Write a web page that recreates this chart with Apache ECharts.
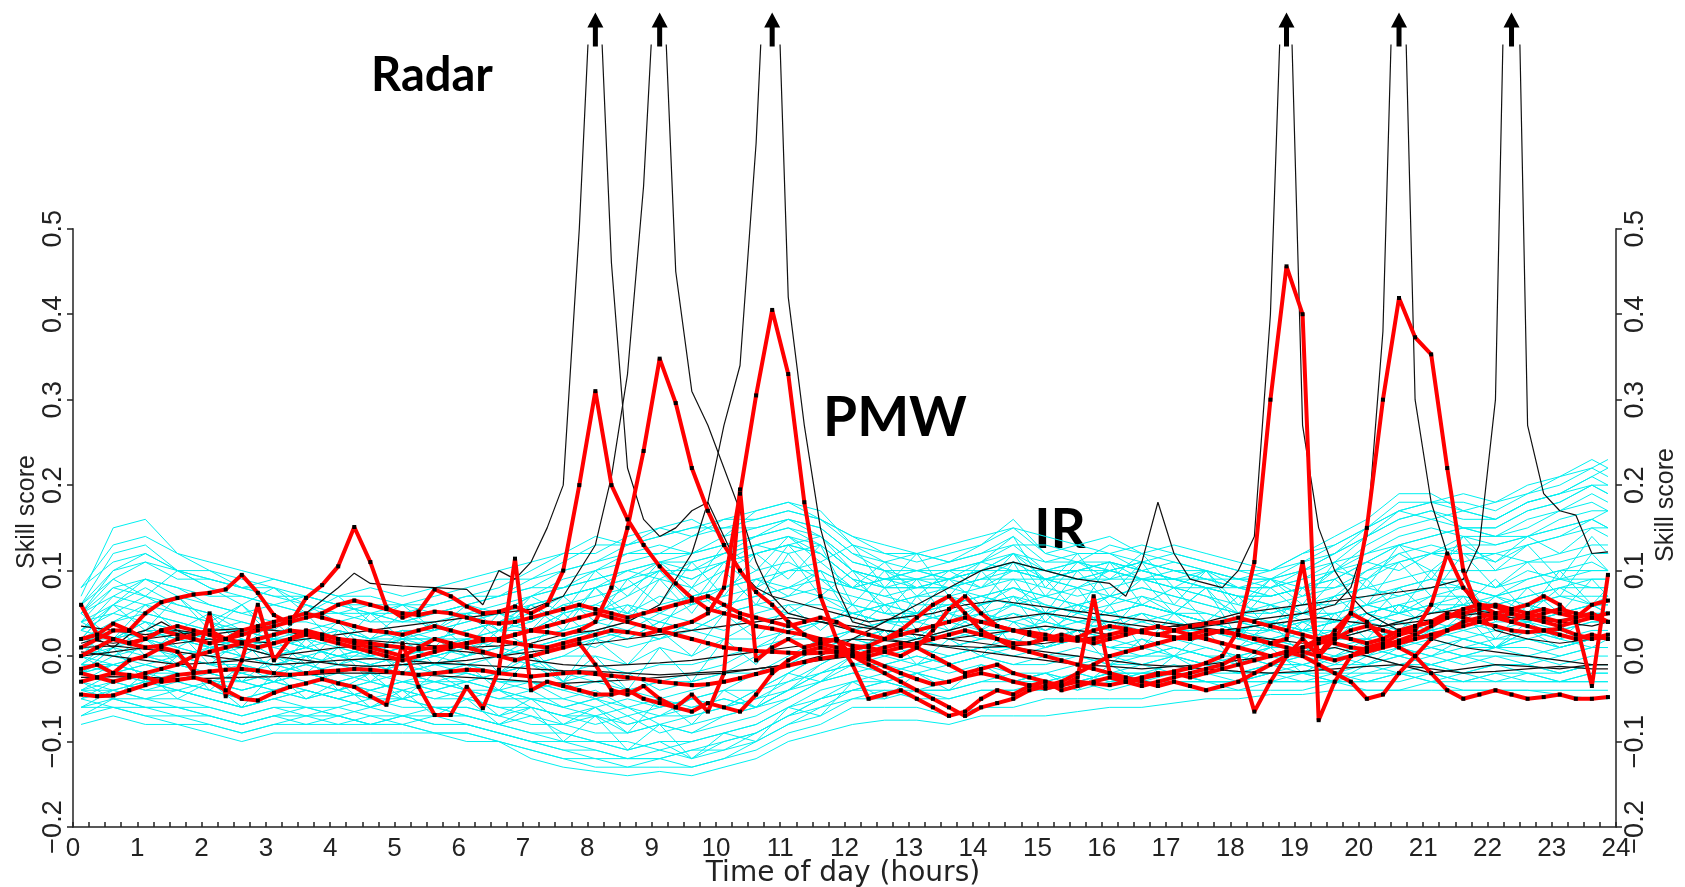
<!DOCTYPE html>
<html><head><meta charset="utf-8">
<script src="https://cdn.jsdelivr.net/npm/echarts@6/dist/echarts.min.js"></script>
<style>html,body{margin:0;padding:0;background:#fff}#c{width:1685px;height:887px}</style>
</head><body><div id="c"></div>
<script>
// ---------- tick labels ----------
const xTickLabels = ['0','1','2','3','4','5','6','7','8','9','10','11','12','13','14','15','16','17','18','19','20','21','22','23','24'];
const yTickValues = [-0.2,-0.1,0.0,0.1,0.2,0.3,0.4,0.5];
const yTickLabels = ['\u22120.2','\u22120.1','0.0','0.1','0.2','0.3','0.4','0.5'];

// ---------- IR (cyan) ensemble : half-hourly samples ----------
const cyanHours = [0.125,0.625,1.125,1.625,2.125,2.625,3.125,3.625,4.125,4.625,5.125,5.625,
 6.125,6.625,7.125,7.625,8.125,8.625,9.125,9.625,10.125,10.625,11.125,11.625,
 12.125,12.625,13.125,13.625,14.125,14.625,15.125,15.625,16.125,16.625,17.125,17.625,
 18.125,18.625,19.125,19.625,20.125,20.625,21.125,21.625,22.125,22.625,23.125,23.625,23.875];
const ir01=[.07,.15,.16,.12,.10,.09,.08,.06,.05,.06,.05,.06, .07,.08,.10,.12,.12,.14,.15,.16,.14,.17,.18,.17, .13,.12,.11,.12,.13,.16,.12,.11,.13,.12,.11,.10, .09,.10,.12,.14,.16,.19,.19,.17,.18,.20,.21,.23,.22];
const ir02=[.08,.13,.14,.12,.11,.10,.09,.08,.07,.07,.06,.07, .08,.09,.09,.11,.13,.13,.14,.15,.16,.16,.17,.16, .14,.12,.12,.11,.12,.13,.13,.12,.12,.11,.12,.11, .10,.09,.11,.13,.15,.18,.18,.18,.17,.19,.20,.22,.21];
const ir03=[.06,.12,.13,.10,.10,.08,.08,.07,.06,.06,.06,.06, .07,.07,.09,.10,.11,.12,.12,.14,.15,.15,.16,.15, .12,.11,.10,.10,.11,.12,.11,.11,.10,.11,.10,.10, .09,.09,.10,.12,.14,.16,.17,.16,.16,.18,.19,.21,.20];
const ir04=[.05,.10,.12,.10,.09,.08,.07,.07,.06,.05,.05,.05, .06,.07,.08,.08,.10,.11,.12,.12,.13,.14,.15,.14, .11,.10,.09,.10,.10,.12,.10,.10,.11,.10,.09,.09, .08,.08,.09,.10,.13,.15,.16,.15,.15,.17,.18,.20,.19];
const ir05=[.05,.09,.11,.09,.09,.08,.07,.06,.05,.05,.04,.05, .05,.06,.07,.08,.09,.10,.11,.11,.12,.13,.14,.13, .10,.09,.09,.09,.10,.10,.10,.09,.10,.09,.09,.08, .08,.07,.08,.09,.11,.13,.14,.15,.14,.15,.17,.18,.17];
const ir06=[.04,.08,.09,.08,.07,.07,.06,.05,.05,.04,.04,.04, .05,.05,.06,.07,.08,.09,.10,.10,.11,.12,.13,.12, .09,.08,.08,.08,.09,.09,.09,.09,.09,.09,.08,.08, .07,.07,.08,.08,.10,.11,.12,.13,.13,.14,.15,.16,.15];
const ir07=[.03,.06,.09,.07,.04,.06,.03,.06,.04,.02,.05,.03, .06,.03,.07,.05,.10,.07,.11,.08,.13,.10,.14,.11, .13,.08,.12,.07,.11,.14,.08,.12,.07,.11,.06,.10, .05,.09,.06,.11,.08,.13,.09,.14,.10,.13,.09,.14,.12];
const ir08=[.02,.06,.03,.07,.03,.06,.02,.05,.01,.05,.02,.04, .01,.05,.03,.07,.04,.09,.06,.11,.07,.12,.09,.13, .06,.10,.05,.09,.06,.11,.05,.10,.06,.09,.05,.08, .04,.08,.05,.09,.06,.11,.07,.12,.08,.11,.07,.12,.10];
const ir09=[.04,.02,.06,.03,.05,.01,.04,.01,.04,.00,.03,.01, .05,.02,.06,.03,.08,.04,.09,.05,.10,.06,.12,.07, .10,.05,.09,.04,.10,.06,.09,.05,.11,.06,.08,.04, .07,.03,.08,.04,.09,.05,.10,.06,.09,.05,.10,.06,.08];
const ir10=[.01,.04,.00,.03,-.01,.02,-.02,.02,-.01,.01,-.02,.02, .00,.03,.01,.05,.02,.06,.03,.08,.05,.09,.07,.10, .04,.08,.03,.07,.05,.09,.04,.08,.03,.07,.05,.08, .02,.06,.03,.07,.04,.08,.05,.09,.04,.08,.05,.09,.07];
const ir11=[.00,-.02,.02,-.01,.01,-.03,.00,-.02,.01,-.03,.00,-.02, -.01,-.04,.00,-.03,.02,-.01,.03,.00,.05,.02,.06,.03, .06,.02,.07,.03,.06,.01,.05,.02,.06,.01,.05,.02, .01,.04,.00,.05,.02,.06,.03,.07,.02,.06,.03,.06,.05];
const ir12=[-.02,.01,-.03,.00,-.04,-.01,-.03,.00,-.04,-.02,-.05,-.02, -.04,-.07,-.05,-.08,-.06,-.09,-.05,-.08,-.04,-.06,-.02,-.03, .00,.03,-.01,.02,.00,.04,.01,.03,-.01,.02,.00,.03, -.01,.02,.00,.03,.01,.04,.02,.05,.01,.04,.02,.05,.04];
const ir13=[.02,.02,.03,.03,.02,.01,.02,.01,.00,.01,.02,.01, .01,.02,.01,.02,.03,.02,.04,.03,.05,.06,.05,.07, .06,.05,.04,.05,.04,.06,.05,.04,.05,.06,.05,.04, .04,.03,.05,.04,.05,.06,.05,.06,.05,.06,.07,.06,.06];
const ir14=[.00,.02,.01,.02,.01,.01,.00,.01,.00,-.01,.00,.01, .00,.01,.00,.01,.02,.01,.02,.03,.02,.04,.05,.04, .05,.04,.05,.04,.05,.04,.05,.04,.04,.05,.04,.03, .03,.04,.03,.04,.04,.05,.04,.05,.05,.04,.05,.05,.05];
const ir15=[.01,.00,.02,.00,.01,.00,-.01,.00,-.01,.00,-.01,.00, .01,.00,-.01,.00,.00,-.01,.01,.00,.02,.02,.03,.04, .03,.04,.03,.04,.03,.05,.03,.04,.03,.04,.03,.03, .02,.03,.02,.03,.04,.03,.04,.03,.04,.04,.03,.04,.04];
const ir16=[-.01,.01,.00,.00,-.01,-.01,-.02,-.01,-.02,-.01,-.02,-.01, -.01,-.02,-.01,-.02,-.01,-.02,-.01,-.01,.00,.01,.02,.02, .03,.02,.03,.02,.03,.03,.02,.03,.02,.03,.02,.02, .01,.02,.01,.02,.03,.02,.03,.02,.03,.03,.02,.03,.03];
const ir17=[-.01,-.01,-.02,-.01,-.02,-.03,-.02,-.02,-.03,-.02,-.02,-.03, -.02,-.03,-.03,-.04,-.03,-.04,-.03,-.03,-.02,-.02,-.01,.01, .02,.01,.02,.01,.02,.02,.01,.02,.01,.01,.02,.01, .00,.01,.01,.00,.02,.01,.02,.01,.02,.02,.01,.02,.02];
const ir18=[-.02,-.01,-.02,-.02,-.03,-.03,-.04,-.03,-.04,-.03,-.04,-.03, -.04,-.04,-.05,-.05,-.06,-.05,-.06,-.05,-.04,-.04,-.03,-.01, .01,.00,.01,.00,.01,.01,.00,.01,.00,.00,.01,.00, -.01,.00,.00,-.01,.01,.00,.01,.00,.01,.01,.00,.01,.01];
const ir19=[-.03,-.02,-.03,-.03,-.04,-.05,-.04,-.05,-.04,-.05,-.05,-.04, -.05,-.06,-.06,-.07,-.07,-.08,-.07,-.07,-.06,-.05,-.04,-.02, .00,-.01,.00,-.01,.00,-.01,-.01,.00,-.01,-.01,.00,-.01, -.02,-.01,-.01,-.02,.00,-.01,.00,-.01,.00,.00,-.01,.00,.00];
const ir20=[-.04,-.03,-.04,-.04,-.05,-.06,-.05,-.06,-.06,-.05,-.06,-.06, -.06,-.07,-.08,-.08,-.09,-.09,-.08,-.09,-.08,-.07,-.05,-.03, -.01,-.02,-.01,-.02,-.01,-.02,-.02,-.01,-.02,-.02,-.01,-.02, -.03,-.02,-.02,-.03,-.01,-.02,-.01,-.02,-.01,-.01,-.02,-.01,-.01];
const ir21=[-.05,-.04,-.05,-.05,-.06,-.07,-.06,-.06,-.07,-.06,-.07,-.07, -.07,-.08,-.09,-.10,-.10,-.11,-.10,-.10,-.09,-.08,-.06,-.04, -.03,-.03,-.02,-.03,-.02,-.03,-.03,-.02,-.03,-.02,-.02,-.03, -.03,-.03,-.02,-.03,-.02,-.02,-.02,-.03,-.02,-.02,-.03,-.02,-.02];
const ir22=[-.06,-.05,-.06,-.06,-.07,-.08,-.07,-.07,-.07,-.08,-.07,-.08, -.08,-.09,-.10,-.11,-.12,-.12,-.12,-.11,-.11,-.10,-.08,-.06, -.04,-.04,-.04,-.05,-.04,-.04,-.04,-.03,-.04,-.03,-.03,-.03, -.03,-.03,-.03,-.03,-.03,-.03,-.02,-.03,-.03,-.03,-.03,-.03,-.03];
const ir23=[-.07,-.06,-.07,-.07,-.08,-.09,-.08,-.08,-.08,-.08,-.08,-.09, -.09,-.10,-.11,-.12,-.13,-.13,-.13,-.13,-.12,-.11,-.09,-.08, -.06,-.06,-.06,-.07,-.06,-.06,-.05,-.05,-.05,-.05,-.04,-.04, -.04,-.04,-.04,-.03,-.04,-.04,-.03,-.04,-.04,-.04,-.04,-.04,-.04];
const ir24=[-.08,-.07,-.08,-.08,-.09,-.10,-.09,-.09,-.09,-.09,-.09,-.09, -.10,-.10,-.12,-.13,-.135,-.14,-.135,-.14,-.13,-.12,-.10,-.09, -.08,-.075,-.075,-.08,-.07,-.07,-.07,-.065,-.06,-.06,-.055,-.05, -.05,-.045,-.045,-.04,-.04,-.04,-.04,-.04,-.04,-.04,-.045,-.05,-.05];
const ir25=[.02,.06,.08,.06,.05,.03,.02,.01,.00,.01,.00,-.01, .00,.02,.03,.05,.06,.08,.10,.09,.11,.13,.14,.12, .09,.06,.05,.07,.06,.08,.06,.05,.07,.06,.05,.04, .03,.04,.05,.07,.10,.12,.13,.12,.11,.13,.14,.16,.15];
const ir26=[-.02,.01,.03,.02,.01,.00,-.01,-.02,-.02,-.01,-.02,-.03, -.03,-.02,-.01,.00,.02,.03,.02,.04,.06,.07,.08,.07, .05,.04,.04,.03,.05,.04,.03,.05,.04,.03,.04,.03, .02,.01,.03,.04,.06,.08,.09,.08,.07,.09,.10,.11,.10];
const ir27=[.04,.05,.04,.03,.01,.02,.00,.01,.00,-.01,.00,.01, .02,.01,.00,-.02,-.03,-.02,-.04,-.03,-.02,.00,.02,.04, .05,.06,.07,.08,.09,.11,.09,.08,.10,.09,.08,.07, .05,.04,.03,.04,.05,.06,.05,.06,.07,.06,.05,.06,.06];
const ir28=[-.04,-.02,-.01,-.02,-.03,-.04,-.03,-.04,-.05,-.04,-.05,-.04, -.03,-.02,.00,.01,.03,.04,.06,.07,.08,.10,.11,.09, .06,.05,.05,.04,.06,.07,.05,.06,.05,.04,.05,.04, .03,.02,.03,.02,.03,.04,.03,.04,.05,.04,.05,.06,.05];
const ir29=[.01,.03,.02,.01,.00,-.02,-.03,-.02,-.03,-.04,-.03,-.02, -.03,-.04,-.06,-.07,-.06,-.08,-.07,-.05,-.06,-.04,-.02,.00, .02,.03,.02,.01,.02,.03,.04,.03,.02,.01,.00,.01, .00,-.01,.00,.01,.02,.01,.03,.02,.01,.03,.02,.01,.02];
const ir30=[.05,.08,.07,.05,.04,.03,.02,.03,.02,.01,.02,.02, .03,.04,.06,.07,.08,.10,.11,.12,.13,.14,.16,.15, .12,.10,.08,.09,.08,.10,.09,.10,.11,.10,.09,.08, .07,.06,.05,.07,.08,.07,.08,.09,.08,.10,.09,.10,.10];
const ir31=[-.06,-.04,-.03,-.04,-.05,-.06,-.05,-.04,-.05,-.06,-.05,-.06, -.07,-.08,-.07,-.09,-.10,-.11,-.10,-.12,-.11,-.09,-.07,-.05, -.04,-.03,-.04,-.03,-.02,-.03,-.02,-.03,-.02,-.01,-.02,-.01, .00,-.01,.00,.01,.00,.02,.01,.02,.01,.02,.03,.02,.02];
const ir32=[.03,.07,.09,.08,.06,.05,.04,.04,.03,.02,.03,.03, .04,.05,.04,.06,.05,.07,.09,.08,.10,.12,.13,.14, .10,.08,.09,.08,.07,.08,.07,.08,.07,.08,.07,.06, .05,.06,.04,.05,.06,.05,.06,.07,.06,.07,.08,.09,.09];
const ir33=[-.03,-.01,.00,-.01,-.02,-.03,-.02,-.01,-.02,-.03,-.02,-.01, -.02,-.03,-.03,-.05,-.04,-.06,-.05,-.06,-.05,-.06,-.04,-.02, -.01,-.01,.00,-.01,.00,.01,.00,.00,-.01,.00,.00,-.01, -.02,-.02,-.01,-.02,-.01,.00,-.01,.00,-.01,-.01,-.02,-.01,-.01];
const ir34=[.00,.04,.06,.05,.04,.02,.01,.02,.01,.00,.01,.00, .01,.00,.02,.03,.04,.05,.04,.06,.07,.08,.10,.11, .08,.07,.06,.06,.07,.06,.05,.06,.07,.06,.05,.05, .04,.03,.04,.05,.06,.05,.07,.08,.07,.08,.09,.08,.08];
const ir35=[.03,.05,.07,.06,.05,.04,.03,.03,.04,.03,.02,.03, .04,.05,.07,.09,.10,.12,.13,.12,.14,.15,.16,.14, .11,.10,.10,.11,.12,.14,.11,.12,.12,.10,.11,.10, .09,.09,.10,.12,.15,.17,.18,.17,.16,.18,.19,.20,.20];
const ir36=[.02,.04,.05,.04,.03,.03,.02,.02,.03,.02,.02,.02, .03,.04,.05,.07,.08,.09,.11,.10,.12,.14,.15,.13, .10,.09,.09,.10,.11,.13,.10,.11,.11,.09,.10,.09, .08,.08,.09,.11,.14,.16,.17,.15,.15,.17,.18,.20,.19];
const ir37=[-.01,.02,.04,.03,.02,.01,.00,.01,.00,.00,.01,.01, .02,.03,.04,.06,.07,.08,.10,.09,.11,.12,.13,.12, .09,.08,.08,.09,.10,.12,.09,.10,.10,.09,.09,.08, .07,.07,.08,.10,.12,.14,.15,.14,.14,.16,.17,.19,.18];
const ir38=[.01,.03,.02,.03,.02,.01,.02,.01,.02,.01,.01,.02, .02,.03,.03,.04,.05,.06,.05,.07,.08,.09,.10,.10, .08,.09,.08,.09,.10,.11,.10,.09,.10,.11,.10,.09, .08,.07,.08,.09,.11,.13,.14,.15,.14,.14,.16,.17,.17];
const ir39=[.00,.01,.02,.01,.00,.01,.00,-.01,.00,.01,.00,-.01, .00,.01,.02,.03,.04,.03,.05,.04,.06,.07,.08,.09, .08,.07,.08,.08,.09,.10,.09,.08,.09,.10,.09,.08, .07,.06,.07,.08,.09,.11,.12,.12,.12,.13,.14,.15,.15];
const ir40=[-.02,-.01,.00,-.01,-.02,-.01,-.02,-.03,-.02,-.01,-.02,-.02, -.01,.00,.01,.02,.03,.02,.04,.03,.05,.06,.07,.08, .07,.06,.07,.07,.08,.09,.08,.07,.08,.09,.08,.07, .06,.05,.06,.07,.08,.09,.10,.10,.10,.11,.11,.12,.12];
const ir41=[.03,.02,.03,.02,.01,.02,.01,.00,.01,.00,.01,.00, -.01,-.02,-.01,-.03,-.02,-.04,-.03,-.02,-.01,.01,.03,.04, .05,.04,.05,.06,.07,.08,.07,.06,.07,.08,.07,.06, .05,.05,.06,.06,.07,.08,.09,.09,.08,.09,.10,.10,.10];
const ir42=[-.03,-.02,-.03,-.02,-.03,-.04,-.03,-.02,-.03,-.04,-.03,-.03, -.04,-.05,-.04,-.06,-.05,-.07,-.06,-.05,-.04,-.02,.00,.02, .03,.04,.04,.05,.06,.07,.06,.05,.06,.07,.06,.05, .04,.04,.05,.05,.06,.07,.08,.08,.07,.08,.09,.09,.09];
const ir43=[.02,.00,.01,.00,-.01,.00,-.01,-.02,-.01,-.02,-.01,-.02, -.02,-.03,-.04,-.03,-.05,-.04,-.06,-.05,-.06,-.04,-.02,.00, .02,.03,.03,.04,.05,.06,.05,.04,.05,.06,.05,.04, .03,.03,.04,.04,.05,.06,.07,.07,.06,.07,.08,.08,.08];
const ir44=[-.05,-.03,-.04,-.03,-.04,-.05,-.04,-.05,-.04,-.03,-.04,-.05, -.05,-.06,-.07,-.08,-.07,-.09,-.08,-.09,-.07,-.06,-.04,-.01, .01,.02,.02,.03,.04,.05,.04,.03,.04,.05,.04,.03, .02,.02,.03,.03,.04,.05,.06,.06,.05,.06,.07,.07,.07];
const ir45=[-.07,-.05,-.06,-.06,-.07,-.08,-.07,-.06,-.07,-.08,-.07,-.08, -.08,-.09,-.10,-.11,-.11,-.12,-.11,-.12,-.10,-.09,-.07,-.05, -.03,-.02,-.01,.00,.01,.02,.01,.02,.01,.02,.01,.00, .00,.01,.01,.02,.02,.03,.03,.04,.03,.04,.05,.05,.05];
const ir46=[-.06,-.06,-.07,-.08,-.08,-.09,-.08,-.07,-.08,-.07,-.08,-.09, -.09,-.10,-.11,-.12,-.12,-.13,-.12,-.13,-.12,-.10,-.08,-.07, -.05,-.05,-.04,-.04,-.03,-.02,-.03,-.02,-.03,-.02,-.02,-.02, -.02,-.01,-.01,.00,.00,.01,.00,.01,.01,.00,.01,.02,.02];
const ir47=[-.05,-.06,-.06,-.07,-.07,-.08,-.07,-.08,-.07,-.08,-.08,-.07, -.08,-.09,-.10,-.10,-.11,-.12,-.12,-.11,-.10,-.09,-.07,-.06, -.05,-.04,-.05,-.05,-.04,-.04,-.03,-.04,-.03,-.03,-.03,-.03, -.03,-.02,-.02,-.02,-.02,-.01,-.01,-.02,-.01,-.02,-.02,-.01,-.01];
const ir48=[-.04,-.05,-.05,-.06,-.06,-.07,-.06,-.07,-.06,-.07,-.07,-.06, -.07,-.08,-.09,-.09,-.10,-.10,-.11,-.10,-.09,-.08,-.06,-.05, -.04,-.03,-.04,-.04,-.03,-.03,-.02,-.03,-.02,-.02,-.02,-.03, -.04,-.03,-.03,-.03,-.03,-.02,-.03,-.03,-.02,-.03,-.03,-.02,-.02];
const ir49=[.05,.02,.04,.01,.03,.00,.02,-.01,.03,.00,.02,-.01, .02,-.02,.01,-.03,.00,-.04,.01,-.03,.02,-.01,.04,.01, .03,.06,.02,.05,.03,.07,.02,.06,.03,.05,.02,.04, .03,.01,.04,.02,.05,.03,.06,.04,.07,.05,.08,.06,.07];
const ir50=[-.03,-.05,-.02,-.05,-.03,-.06,-.02,-.05,-.03,-.06,-.04,-.07, -.05,-.08,-.06,-.10,-.07,-.11,-.08,-.12,-.09,-.10,-.06,-.07, -.03,-.05,-.02,-.04,-.01,-.03,-.02,-.04,-.01,-.03,.00,-.02, -.01,.01,-.02,.00,-.01,.01,.00,.02,.01,.03,.01,.02,.02];
const ir51=[.06,.10,.11,.10,.08,.07,.06,.07,.06,.05,.06,.05, .06,.07,.08,.10,.11,.13,.14,.15,.15,.16,.17,.16, .13,.11,.12,.11,.13,.15,.12,.13,.12,.13,.12,.11, .10,.10,.11,.12,.14,.17,.16,.17,.16,.18,.19,.21,.22];
const ir52=[-.02,.00,-.01,.00,-.01,-.02,-.01,.00,-.01,-.02,-.01,.00, .01,.00,.01,.02,.01,.03,.02,.04,.03,.05,.06,.06, .05,.06,.05,.06,.07,.06,.07,.06,.05,.06,.05,.04, .03,.04,.03,.04,.05,.04,.05,.06,.05,.06,.05,.06,.06];
const ir53=[.00,-.01,-.02,-.03,-.02,-.03,-.04,-.03,-.04,-.05,-.04,-.05, -.04,-.05,-.05,-.06,-.07,-.06,-.08,-.07,-.06,-.05,-.03,-.02, -.01,.00,-.01,.00,.01,.00,.01,.02,.01,.00,.01,.00, -.01,.00,-.01,.00,.01,.00,.01,.00,.01,.02,.01,.02,.02];
const ir54=[.06,.09,.07,.10,.08,.06,.08,.05,.07,.04,.06,.03, .05,.03,.06,.04,.08,.05,.10,.06,.11,.08,.13,.09, .08,.11,.07,.10,.08,.12,.07,.11,.09,.12,.08,.10, .06,.09,.07,.10,.09,.12,.10,.13,.11,.14,.12,.15,.14];
const ir55=[.05,.07,.06,.07,.06,.05,.06,.05,.04,.05,.04,.05, .06,.05,.07,.08,.09,.10,.09,.11,.12,.13,.12,.13, .10,.09,.10,.09,.10,.11,.10,.11,.10,.11,.10,.09, .09,.08,.10,.11,.12,.13,.12,.14,.13,.14,.15,.16,.17];
const ir56=[-.01,-.02,-.01,-.02,-.03,-.02,-.03,-.02,-.03,-.02,-.03,-.04, -.03,-.04,-.03,-.04,-.05,-.04,-.05,-.04,-.03,-.02,-.01,.01, .02,.01,.02,.03,.02,.03,.02,.03,.02,.03,.02,.02, .01,.02,.01,.02,.02,.03,.02,.03,.02,.03,.03,.04,.04];
const ir57=[-.04,-.04,-.05,-.04,-.05,-.06,-.05,-.04,-.05,-.06,-.05,-.06, -.06,-.07,-.06,-.07,-.08,-.07,-.09,-.08,-.07,-.06,-.05,-.03, -.02,-.01,-.02,-.01,.00,-.01,.00,-.01,.00,-.01,.00,-.01, -.02,-.01,-.02,-.01,-.01,.00,-.01,.00,.00,-.01,.00,.01,.01];
const ir58=[.04,.06,.05,.04,.03,.04,.03,.02,.03,.02,.03,.02, .03,.04,.03,.05,.06,.05,.07,.06,.08,.09,.08,.10, .08,.09,.10,.09,.11,.10,.09,.10,.11,.10,.09,.10, .08,.09,.08,.10,.11,.10,.12,.11,.12,.11,.12,.13,.13];
const ir59=[-.03,-.04,-.03,-.04,-.03,-.04,-.03,-.04,-.05,-.04,-.03,-.04, -.05,-.04,-.05,-.06,-.05,-.06,-.07,-.06,-.05,-.06,-.04,-.03, -.02,-.03,-.02,-.03,-.02,-.03,-.04,-.03,-.02,-.03,-.02,-.03, -.03,-.02,-.03,-.02,-.03,-.02,-.03,-.02,-.03,-.02,-.03,-.03,-.03];
const ir60=[.08,.11,.12,.10,.09,.08,.09,.08,.07,.08,.07,.08, .09,.10,.11,.12,.14,.13,.15,.14,.16,.17,.18,.16, .14,.13,.12,.13,.14,.15,.14,.13,.14,.12,.13,.12, .11,.10,.12,.13,.15,.17,.18,.19,.18,.19,.21,.22,.23];
const irSeries=[ir01,ir02,ir03,ir04,ir05,ir06,ir07,ir08,ir09,ir10,ir11,ir12,ir13,ir14,ir15,ir16,ir17,ir18,ir19,ir20,
 ir21,ir22,ir23,ir24,ir25,ir26,ir27,ir28,ir29,ir30,ir31,ir32,ir33,ir34,ir35,ir36,ir37,ir38,ir39,ir40,
 ir41,ir42,ir43,ir44,ir45,ir46,ir47,ir48,ir49,ir50,ir51,ir52,ir53,ir54,ir55,ir56,ir57,ir58,ir59,ir60];

// ---------- Radar (black) : [hour, skill] ----------
const radar1=[[.125,.035],[.625,.03],[1.125,.025],[1.625,.03],[2.125,.025],[2.625,.03],[3.125,.035],[3.625,.05],[4.125,.08],[4.375,.097],[4.625,.085],[5.125,.082],[5.625,.08],[6.125,.078],[6.375,.06],[6.625,.1],[6.875,.09],[7.125,.11],[7.375,.15],[7.625,.2],[7.875,.5],[8.125,.9],[8.375,.46],[8.625,.22],[8.875,.16],[9.125,.14],[9.375,.15],[9.625,.17],[9.875,.18],[10.125,.14],[10.375,.1],[10.625,.08],[10.875,.07],[11.375,.06],[11.875,.05],[12.375,.04],[12.875,.045],[13.375,.05],[13.875,.06],[14.375,.065],[14.875,.06],[15.375,.055],[15.875,.05],[16.375,.045],[16.875,.04],[17.375,.035],[17.875,.03],[18.375,.035],[18.875,.04],[19.375,.045],[19.875,.04],[20.375,.035],[20.875,.04],[21.375,.045],[21.875,.05],[22.375,.045],[22.875,.04],[23.375,.045],[23.875,.05]];
const radar2=[[.125,.0],[.625,.005],[1.125,.01],[1.625,.015],[2.125,.02],[2.625,.018],[3.125,.015],[3.625,.02],[4.125,.025],[4.625,.03],[5.125,.035],[5.625,.04],[6.125,.045],[6.625,.05],[7.125,.055],[7.625,.07],[8.125,.13],[8.375,.21],[8.625,.33],[8.875,.55],[9.125,.9],[9.375,.45],[9.625,.31],[9.875,.27],[10.125,.22],[10.375,.17],[10.625,.11],[10.875,.07],[11.125,.05],[11.625,.04],[12.125,.03],[12.625,.02],[13.125,.015],[13.625,.01],[14.125,.005],[14.625,.0],[15.125,-.005],[15.625,-.01],[16.125,-.012],[16.625,-.015],[17.125,-.012],[17.625,-.01],[18.125,-.005],[18.625,.0],[19.125,.005],[19.625,.01],[20.125,.0],[20.625,-.01],[21.125,-.02],[21.625,-.015],[22.125,-.01],[22.625,-.012],[23.125,-.015],[23.625,-.01],[23.875,-.01]];
const radar3=[[.125,.02],[.625,.015],[1.125,.02],[1.625,.025],[2.125,.03],[2.625,.032],[3.125,.03],[3.625,.025],[4.125,.02],[4.625,.018],[5.125,.015],[5.625,.012],[6.125,.01],[6.625,.012],[7.125,.015],[7.625,.025],[8.125,.03],[8.625,.04],[9.125,.06],[9.625,.12],[9.875,.18],[10.125,.27],[10.375,.34],[10.625,.6],[10.875,1.0],[11.125,.42],[11.375,.27],[11.625,.15],[11.875,.08],[12.125,.04],[12.625,.03],[13.125,.025],[13.625,.02],[14.125,.025],[14.625,.03],[15.125,.035],[15.625,.03],[16.125,.025],[16.625,.03],[17.125,.035],[17.625,.03],[18.125,.025],[18.625,.02],[19.125,.015],[19.625,.02],[20.125,.03],[20.625,.04],[21.125,.05],[21.625,.055],[22.125,.05],[22.625,.045],[23.125,.04],[23.625,.035],[23.875,.04]];
const radar4=[[.125,-.025],[.625,-.024],[1.125,-.025],[1.625,-.026],[2.125,-.026],[2.625,-.025],[3.125,-.024],[3.625,-.022],[4.125,-.02],[4.625,-.02],[5.125,-.021],[5.625,-.023],[6.125,-.025],[6.625,-.027],[7.125,-.03],[7.625,-.032],[8.125,-.03],[8.625,-.028],[9.125,-.025],[9.625,-.022],[10.125,-.02],[10.625,-.015],[11.125,-.01],[11.625,.0],[12.125,.02],[12.625,.04],[13.125,.06],[13.625,.08],[14.125,.1],[14.625,.11],[15.125,.1],[15.625,.09],[16.125,.085],[16.375,.07],[16.625,.11],[16.875,.18],[17.125,.12],[17.375,.09],[17.625,.085],[17.875,.08],[18.125,.1],[18.375,.14],[18.625,.4],[18.875,.95],[19.125,.27],[19.375,.15],[19.625,.1],[19.875,.07],[20.125,.05],[20.625,.03],[21.125,.02],[21.625,.01],[22.125,.005],[22.625,.0],[23.125,-.005],[23.625,-.01],[23.875,-.01]];
const radar5=[[.125,.01],[.625,.012],[1.125,.008],[1.625,.005],[2.125,.0],[2.625,-.005],[3.125,-.01],[3.625,-.008],[4.125,-.005],[4.625,-.003],[5.125,-.005],[5.625,-.008],[6.125,-.01],[6.625,-.012],[7.125,-.015],[7.625,-.017],[8.125,-.018],[8.625,-.02],[9.125,-.022],[9.625,-.02],[10.125,-.018],[10.625,-.015],[11.125,-.01],[11.625,-.005],[12.125,.0],[12.625,.01],[13.125,.02],[13.625,.03],[14.125,.04],[14.625,.045],[15.125,.05],[15.625,.045],[16.125,.04],[16.625,.035],[17.125,.03],[17.625,.035],[18.125,.04],[18.625,.045],[19.125,.05],[19.625,.06],[19.875,.08],[20.125,.14],[20.375,.38],[20.625,1.05],[20.875,.3],[21.125,.18],[21.375,.12],[21.625,.08],[21.875,.05],[22.125,.03],[22.625,.02],[23.125,.015],[23.625,.02],[23.875,.02]];
const radar6=[[.125,.005],[.625,.0],[1.125,-.005],[1.625,-.01],[2.125,-.008],[2.625,-.005],[3.125,.0],[3.625,.005],[4.125,.01],[4.625,.012],[5.125,.01],[5.625,.008],[6.125,.005],[6.625,.0],[7.125,-.005],[7.625,-.01],[8.125,-.012],[8.625,-.01],[9.125,-.008],[9.625,-.005],[10.125,.0],[10.625,.005],[11.125,.01],[11.625,.015],[12.125,.02],[12.625,.018],[13.125,.015],[13.625,.012],[14.125,.01],[14.625,.012],[15.125,.015],[15.625,.02],[16.125,.025],[16.625,.03],[17.125,.035],[17.625,.04],[18.125,.05],[18.625,.055],[19.125,.06],[19.625,.065],[20.125,.07],[20.625,.075],[21.125,.08],[21.375,.085],[21.625,.09],[21.875,.13],[22.125,.3],[22.375,1.2],[22.625,.27],[22.875,.19],[23.125,.17],[23.375,.165],[23.625,.12],[23.875,.122]];
const radar7=[[.125,.015],[.375,.02],[.625,.01],[.875,.025],[1.125,.03],[1.375,.04],[1.625,.03],[1.875,.02],[2.125,.015],[2.625,.01],[3.125,.0],[3.625,-.005],[4.125,-.01],[4.625,-.012],[5.125,-.01],[5.625,-.008],[6.125,-.005],[6.625,.0],[7.125,.005],[7.625,.01],[8.125,.015],[8.625,.02],[9.125,.025],[9.625,.03],[10.125,.035],[10.625,.04],[11.125,.045],[11.625,.04],[12.125,.035],[12.625,.03],[13.125,.025],[13.625,.02],[14.125,.015],[14.625,.01],[15.125,.005],[15.625,.0],[16.125,-.005],[16.625,-.01],[17.125,-.012],[17.625,-.015],[18.125,-.018],[18.625,-.02],[19.125,-.018],[19.625,-.015],[20.125,-.012],[20.625,-.01],[21.125,-.015],[21.625,-.02],[22.125,-.018],[22.625,-.015],[23.125,-.012],[23.625,-.015],[23.875,-.015]];
const radarSeries=[radar1,radar2,radar3,radar4,radar5,radar6,radar7];
const arrowHours=[8.125,9.125,10.875,18.875,20.625,22.375];

// ---------- PMW (red) : quarter-hourly samples, 4 per hour ----------
const pmw1=[.01,.02,.03,.03, .05,.063,.068,.072, .074,.078,.095,.074, .048,.038,.068,.083, .105,.151,.11,.057, .045,.052,.078,.07, .058,.05,.052,.058, .05,.06,.1,.2, .31,.2,.16,.13, .105,.085,.068,.055, .05,.045,.035,.032, .028,.025,.02,.018, .012,.01,.005,.0, .01,.03,.055,.07, .05,.035,.03,.025, .02,.018,.022,.03, .035,.032,.028,.025, .03,.035,.038,.04, .045,.04,.035,.03, .025,.02,.015,.01, .008,.012,.018,.025, .035,.045,.055,.06, .058,.05,.045,.05, .055,.05,.045,.05];
const pmw2=[-.045,-.047,-.046,-.04, -.034,-.028,-.022,-.02, -.018,-.016,-.015,-.017, -.02,-.022,-.02,-.018, -.017,-.015,-.016,-.018, -.02,-.022,-.02,-.018, -.016,-.017,-.02,-.022, -.024,-.022,-.02,-.019, -.021,-.023,-.025,-.027, -.03,-.032,-.034,-.033, -.03,-.026,-.021,-.016, -.011,-.007,-.003,.0, .002,-.004,-.012,-.02, -.027,-.033,-.03,-.024, -.02,-.024,-.03,-.034, -.038,-.034,-.03,-.032, -.034,-.03,-.026,-.022, -.018,-.014,-.008,.0, .03,.11,.30,.456, .40,-.075,-.03,.0, .01,.015,.025,.035, .04,.05,.045,.04, .035,.03,.028,.03, .032,.025,.02,.025];
const pmw3=[.06,.025,.038,.03, .02,.03,.025,.02, .015,.02,.03,.035, .04,.045,.05,.045, .04,.035,.03,.028, .025,.03,.035,.03, .025,.02,.02,.025, .03,.028,.025,.03, .04,.08,.15,.24, .348,.296,.22,.17, .13,.1,.075,.06, .04,.025,.015,.01, .005,.0,.005,.01, .015,.02,.025,.03, .025,.02,.015,.015, .02,.025,.02,.015, .02,.025,.03,.035, .03,.025,.02,.015, .01,.005,.0,.005, .01,.015,.02,.05, .15,.3,.419,.373, .353,.22,.1,.05, .045,.04,.05,.055, .05,.045,.06,.065];
const pmw4=[-.015,-.01,-.02,-.005, .0,.01,.005,-.018, .05,-.047,-.005,.06, -.005,.02,.03,.025, .02,.015,.01,.005, .0,.01,.02,.015, .01,.005,.0,-.005, .0,.005,.01,.015, -.01,-.04,-.045,-.035, -.05,-.06,-.045,-.065, -.02,.195,-.005,.01, .02,.01,.015,.02, -.01,-.05,-.045,-.04, -.05,-.06,-.07,-.065, -.05,-.04,-.045,-.035, -.03,-.04,-.035,-.03, -.025,-.03,-.035,-.03, -.025,-.02,-.015,-.01, .0,-.065,-.03,.0, .02,.0,.03,.05, .04,.02,.01,.0, -.02,-.04,-.05,-.045, -.04,-.045,-.05,-.048, -.045,-.05,-.05,-.048];
const pmw5=[.02,.025,.02,.015, .01,.012,.02,.025, .03,.02,.015,.01, .015,.02,.025,.02, .015,.01,.005,.0, -.005,.0,.005,.01, .015,.02,.018,.015, .012,.01,.015,.02, .025,.03,.028,.025, .03,.035,.04,.05, .08,.19,.305,.405, .33,.18,.07,.02, .0,-.01,-.02,-.03, -.04,-.05,-.06,-.07, -.06,-.055,-.05,-.04, -.035,-.03,-.02,-.01, .0,.005,.01,.015, .02,.025,.03,.028, .025,.02,.015,.01, .005,.0,-.005,.0, .005,.01,.015,.02, .025,.03,.035,.04, .045,.05,.045,.04, .035,.04,.045,.04];
const pmw6=[-.03,-.025,-.02,-.022, -.025,-.03,-.028,-.025, -.03,-.04,-.05,-.052, -.043,-.036,-.032,-.027, -.032,-.036,-.047,-.057, .015,-.036,-.069,-.069, -.036,-.061,-.016,.114, -.04,-.03,-.035,-.04, -.045,-.045,-.04,-.05, -.055,-.06,-.065,-.055, -.06,-.065,-.045,-.02, -.005,.005,.01,.005, .0,.005,.01,.015, .01,.0,-.01,-.02, -.015,-.01,-.02,-.025, -.03,-.035,-.025,.07, -.02,-.03,-.025,-.02, -.02,-.025,-.02,-.015, -.01,-.005,.0,.005, .0,-.01,-.02,-.03, -.05,-.045,-.02,.0, .02,.03,.04,.045, .05,.04,.035,.03, .025,.02,.025,.02];
const pmw7=[.0,.01,.02,.015, .02,.03,.035,.03, .025,.02,.025,.03, .035,.04,.045,.05, .06,.065,.06,.055, .05,.048,.052,.05, .045,.04,.038,.04, .045,.05,.055,.06, .055,.05,.045,.05, .055,.06,.065,.07, .06,.05,.045,.04, .035,.04,.045,.04, .03,.025,.02,.025, .03,.035,.04,.045, .04,.035,.03,.028, .025,.02,.018,.02, .025,.03,.028,.025, .022,.02,.025,.03, .025,.02,.015,.02, .11,.0,.02,.03, .035,.03,.025,.03, .06,.12,.08,.06, .05,.055,.06,.07, .06,.04,-.035,.095];
const pmw8=[-.02,-.025,-.03,-.025, -.02,-.015,-.01,.0, .005,.01,.015,.02, .025,.03,.028,.025, .02,.018,.015,.012, .01,.008,.01,.012, .015,.018,.02,.025, .03,.035,.04,.045, .05,.045,.04,.035, .03,.025,.02,.015, .01,.008,.006,.005, .004,.003,.004,.005, .008,.012,.02,.03, .045,.06,.07,.05, .03,.02,.01,.005, .0,-.005,-.01,-.015, -.02,-.025,-.03,-.035, -.03,-.035,-.04,-.035, -.03,-.02,-.01,.0, .01,.02,.025,.02, .015,.02,.03,.035, .04,.045,.05,.055, .06,.055,.05,.045, .04,.045,.05,.04];
const pmwSeries=[pmw1,pmw2,pmw3,pmw4,pmw5,pmw6,pmw7,pmw8];

// ---------- build ----------
const FONT = "'Liberation Sans', Arial, sans-serif";
const chart = echarts.init(document.getElementById('c'), null, {renderer:'canvas'});
const series = [];
irSeries.forEach(v => series.push({
  type:'line', xAxisIndex:0, yAxisIndex:0, data: cyanHours.map((h,i)=>[h,v[i]]),
  showSymbol:false, silent:true, animation:false, z:1,
  lineStyle:{color:'#00f0f0', width:1}
}));
radarSeries.forEach(d => series.push({
  type:'line', xAxisIndex:0, yAxisIndex:0, data:d, showSymbol:false, silent:true, animation:false, z:2,
  lineStyle:{color:'#111', width:1.2}
}));
pmwSeries.forEach(v => series.push({
  type:'line', xAxisIndex:0, yAxisIndex:0, data: v.map((y,i)=>[0.125+0.25*i, y]),
  symbol:'rect', symbolSize:4, showSymbol:true, silent:true, animation:false, z:3,
  itemStyle:{color:'#000'}, lineStyle:{color:'#ff0000', width:4}
}));
series.push({
  type:'scatter', xAxisIndex:0, yAxisIndex:0, clip:false, silent:true, animation:false, z:5,
  data: arrowHours.map(h=>[h,0.733]),
  symbol:'path://M8,0 L16,15 L10.5,15 L10.5,34 L5.5,34 L5.5,15 L0,15 Z', symbolSize:[16,34],
  itemStyle:{color:'#000', opacity:1}
});

const yLab = v => { const k = yTickValues.findIndex(t => Math.abs(t-v) < 1e-6); return k>=0 ? yTickLabels[k] : ''; };
const yAxisStyle = (pos) => ({
  gridIndex:1, type:'value', position:pos, min:-0.2, max:0.5, interval:0.1,
  axisLine:{show:true, onZero:false, lineStyle:{color:'#222', width:1.5}},
  axisTick:{show:true, length:6, lineStyle:{color:'#222', width:1.5}},
  axisLabel:{rotate:90, formatter:yLab, fontSize:27, color:'#222', fontFamily:FONT, margin:6},
  splitLine:{show:false}
});

chart.setOption({
  animation:false,
  backgroundColor:'#fff',
  grid:[{left:73, right:69, top:45, bottom:60}, {left:73, right:69, top:228.75, bottom:60}],
  xAxis:[
    {gridIndex:0, type:'value', min:0, max:24, interval:0.25,
     axisLine:{show:true, onZero:false, lineStyle:{color:'#222', width:1.5}},
     axisTick:{show:true, inside:true, length:5, lineStyle:{color:'#222', width:1.5}},
     axisLabel:{formatter:v => { const k = Math.round(v); return Math.abs(v-k)<1e-6 ? xTickLabels[k] : ''; },
       fontSize:26, color:'#222', fontFamily:FONT, margin:9},
     splitLine:{show:false}},
    {gridIndex:1, type:'value', min:0, max:24, show:false}
  ],
  yAxis:[
    {gridIndex:0, type:'value', min:-0.2, max:0.715, show:false},
    yAxisStyle('left'),
    yAxisStyle('right')
  ],
  series: series,
  graphic:[
    {type:'text', x:27, y:512, rotation:Math.PI/2, style:{text:'Skill score', fontSize:25, fontFamily:FONT, fill:'#222', align:'center', verticalAlign:'middle'}},
    {type:'text', x:1666, y:505, rotation:Math.PI/2, style:{text:'Skill score', fontSize:25, fontFamily:FONT, fill:'#222', align:'center', verticalAlign:'middle'}},
    {type:'text', x:843, y:874, style:{text:'Time of day (hours)', fontSize:28, fontFamily:"'DejaVu Sans', sans-serif", fill:'#222', align:'center', verticalAlign:'middle'}},
    {type:'text', x:432, y:76, style:{text:'Radar', fontSize:47, fontWeight:'bold', fontFamily:"Lato, 'Open Sans', sans-serif", fill:'#000', align:'center', verticalAlign:'middle'}},
    {type:'text', x:895, y:418, style:{text:'PMW', fontSize:55, fontWeight:'bold', fontFamily:"Lato, 'Open Sans', sans-serif", fill:'#000', align:'center', verticalAlign:'middle'}},
    {type:'text', x:1060, y:530, style:{text:'IR', fontSize:55, fontWeight:'bold', fontFamily:"Lato, 'Open Sans', sans-serif", fill:'#000', align:'center', verticalAlign:'middle'}}
  ]
});
</script>
</body></html>
